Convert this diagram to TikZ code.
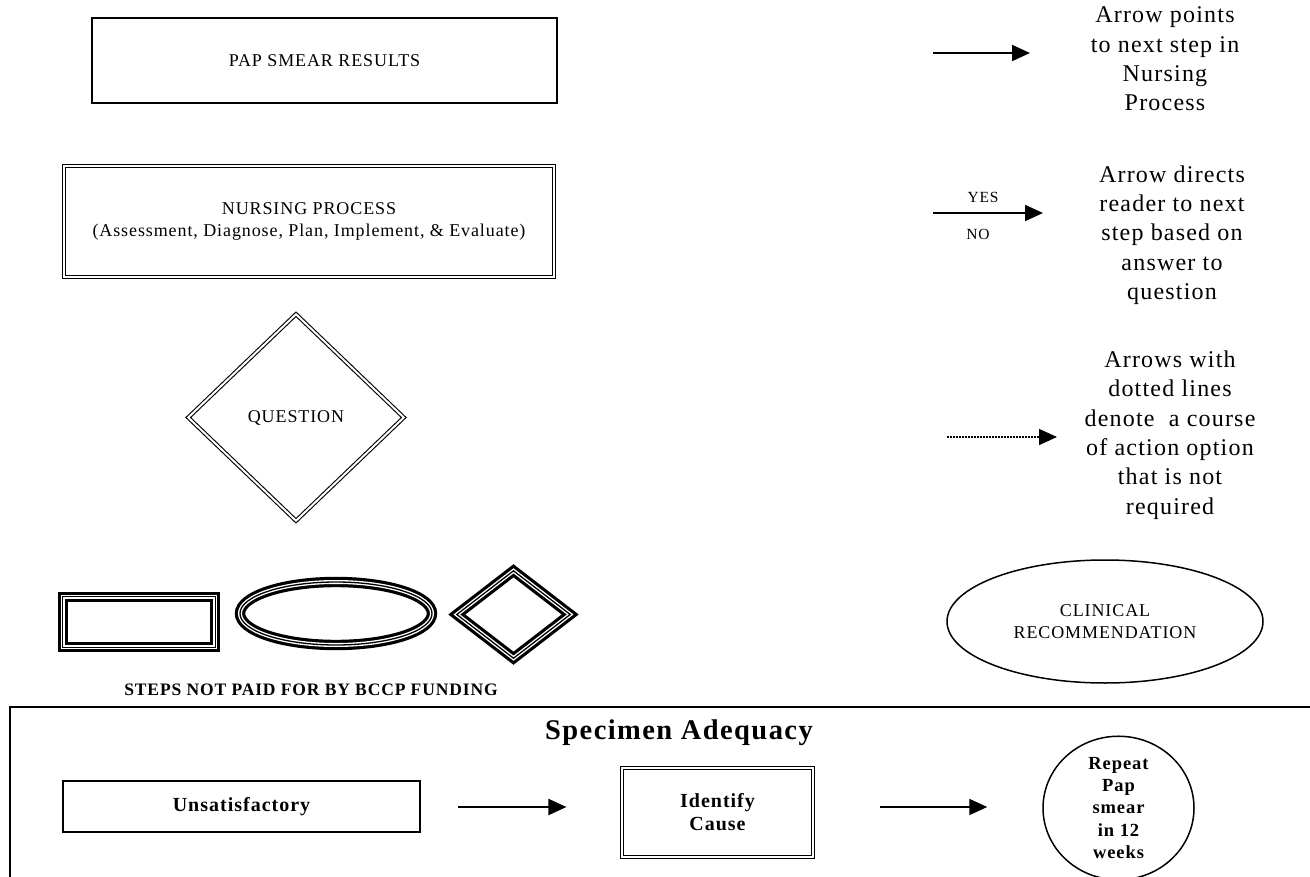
\documentclass[tikz,border=0pt]{standalone}
\usepackage{fontspec}
\setmainfont{Liberation Serif}[LetterSpace=5]
\usetikzlibrary{shapes.geometric,arrows.meta,calc}
\begin{document}
\begin{tikzpicture}[x=1pt,y=-1pt,
  box/.style={draw, line width=1.5pt, inner sep=0pt, align=center},
  dbox/.style={draw, line width=1.1pt, double=white, double distance=2pt, inner sep=0pt, align=center},
  blank/.style={draw=none, inner sep=0pt},
  arr/.style={line width=2pt, -{Triangle[length=18pt,width=16pt]}},
  dotarr/.style={line width=1.5pt, dash pattern=on 1.5pt off 1.5pt, -{Triangle[length=18pt,width=16pt]}},
  trA/.style={line width=3.2pt, double=white, double distance=4pt},
  trB/.style={line width=1.3pt},
  t17/.style={font=\fontsize{18}{21.5}\selectfont},
  t15/.style={font=\fontsize{15.5}{18}\selectfont},
  big/.style={font=\fontsize{24}{29.3}\selectfont, align=center, inner sep=0pt},
  b19/.style={font=\bfseries\fontsize{20}{23}\selectfont},
  b18/.style={font=\bfseries\fontsize{18.5}{22.3}\selectfont},
]
\useasboundingbox (0,0) rectangle (1310,877);
\fill[white] (0,0) rectangle (1310,877);

% left column legend shapes
\node[box, t17, minimum width=465, minimum height=85] (pap) at (324.5,60.5) {PAP SMEAR RESULTS};
\node[dbox, t17, minimum width=490, minimum height=111] (nurs) at (309,221.5)
  {NURSING PROCESS\\(Assessment, Diagnose, Plan, Implement, \& Evaluate)};
\node[dbox, t17, shape=diamond, minimum width=216, minimum height=207] (quest) at (296,417.5) {QUESTION};

% triple-line shapes
\node[blank, minimum width=152, minimum height=50] (trect) at (139,622) {};
\draw[trA] (trect.north west) rectangle (trect.south east);
\draw[trB] (trect.north west) rectangle (trect.south east);
\node[blank, shape=ellipse, minimum width=192, minimum height=63] (tell) at (336,613.5) {};
\draw[trA] (tell.center) ellipse [x radius=96, y radius=31.5];
\draw[trB] (tell.center) ellipse [x radius=96, y radius=31.5];
\node[blank, shape=diamond, minimum width=113, minimum height=87] (tdia) at (513.5,614.5) {};
\draw[trA] (tdia.north) -- (tdia.east) -- (tdia.south) -- (tdia.west) -- cycle;
\draw[trB] (tdia.north) -- (tdia.east) -- (tdia.south) -- (tdia.west) -- cycle;
\node[font=\bfseries\fontsize{17.5}{20}\selectfont] (steps) at (311,690) {STEPS NOT PAID FOR BY BCCP FUNDING};

% right column legend
\coordinate (a1s) at (933,53);
\coordinate (a1e) at (1030,53);
\draw[arr] (a1s) -- (a1e);
\node[big] (txt1) at (1165,59) {Arrow points\\to next step in\\Nursing\\Process};

\coordinate (a2s) at (933,213);
\coordinate (a2e) at (1043,213);
\draw[arr] (a2s) -- (a2e);
\node[t15] (yes) at (983,197) {YES};
\node[t15] (no) at (978,234) {NO};
\node[big] (txt2) at (1172,235) {Arrow directs\\reader to next\\step based on\\answer to\\question};

\coordinate (a3s) at (947,437);
\coordinate (a3e) at (1057,437);
\draw[dotarr] (a3s) -- (a3e);
\node[big] (txt3) at (1170,435) {Arrows with\\dotted lines\\denote\ \ a course\\of action option\\that is not\\required};

\node[box, t17, shape=ellipse, line width=1.5pt, minimum width=316, minimum height=123] (clin) at (1105,621.5)
  {CLINICAL\\RECOMMENDATION};

% bottom frame
\coordinate (fbl) at (10,877);
\coordinate (ftl) at (10,707);
\coordinate (ftr) at (1310,707);
\draw[line width=2pt] (fbl) -- (ftl) -- (ftr);
\node[font=\bfseries\fontsize{28.5}{32}\selectfont] (spec) at (679,733) {Specimen Adequacy};

\node[box, b19, minimum width=357, minimum height=51] (unsat) at (241.5,806.5) {Unsatisfactory};
\node[dbox, b19, minimum width=191, minimum height=89] (ident) at (717.5,812.5) {Identify\\Cause};
\node[box, b18, shape=ellipse, align=center, minimum width=151, minimum height=130] (rep) at (1118.5,808)
  {Repeat\\Pap\\smear\\in 12\\weeks};

\draw[arr, shorten <=37pt, shorten >=55pt] (unsat.east |- 0,807) -- (ident.west |- 0,807);
\draw[arr, shorten <=66pt, shorten >=55pt] (ident.east |- 0,807) -- (rep.west |- 0,807);
\end{tikzpicture}
\end{document}
